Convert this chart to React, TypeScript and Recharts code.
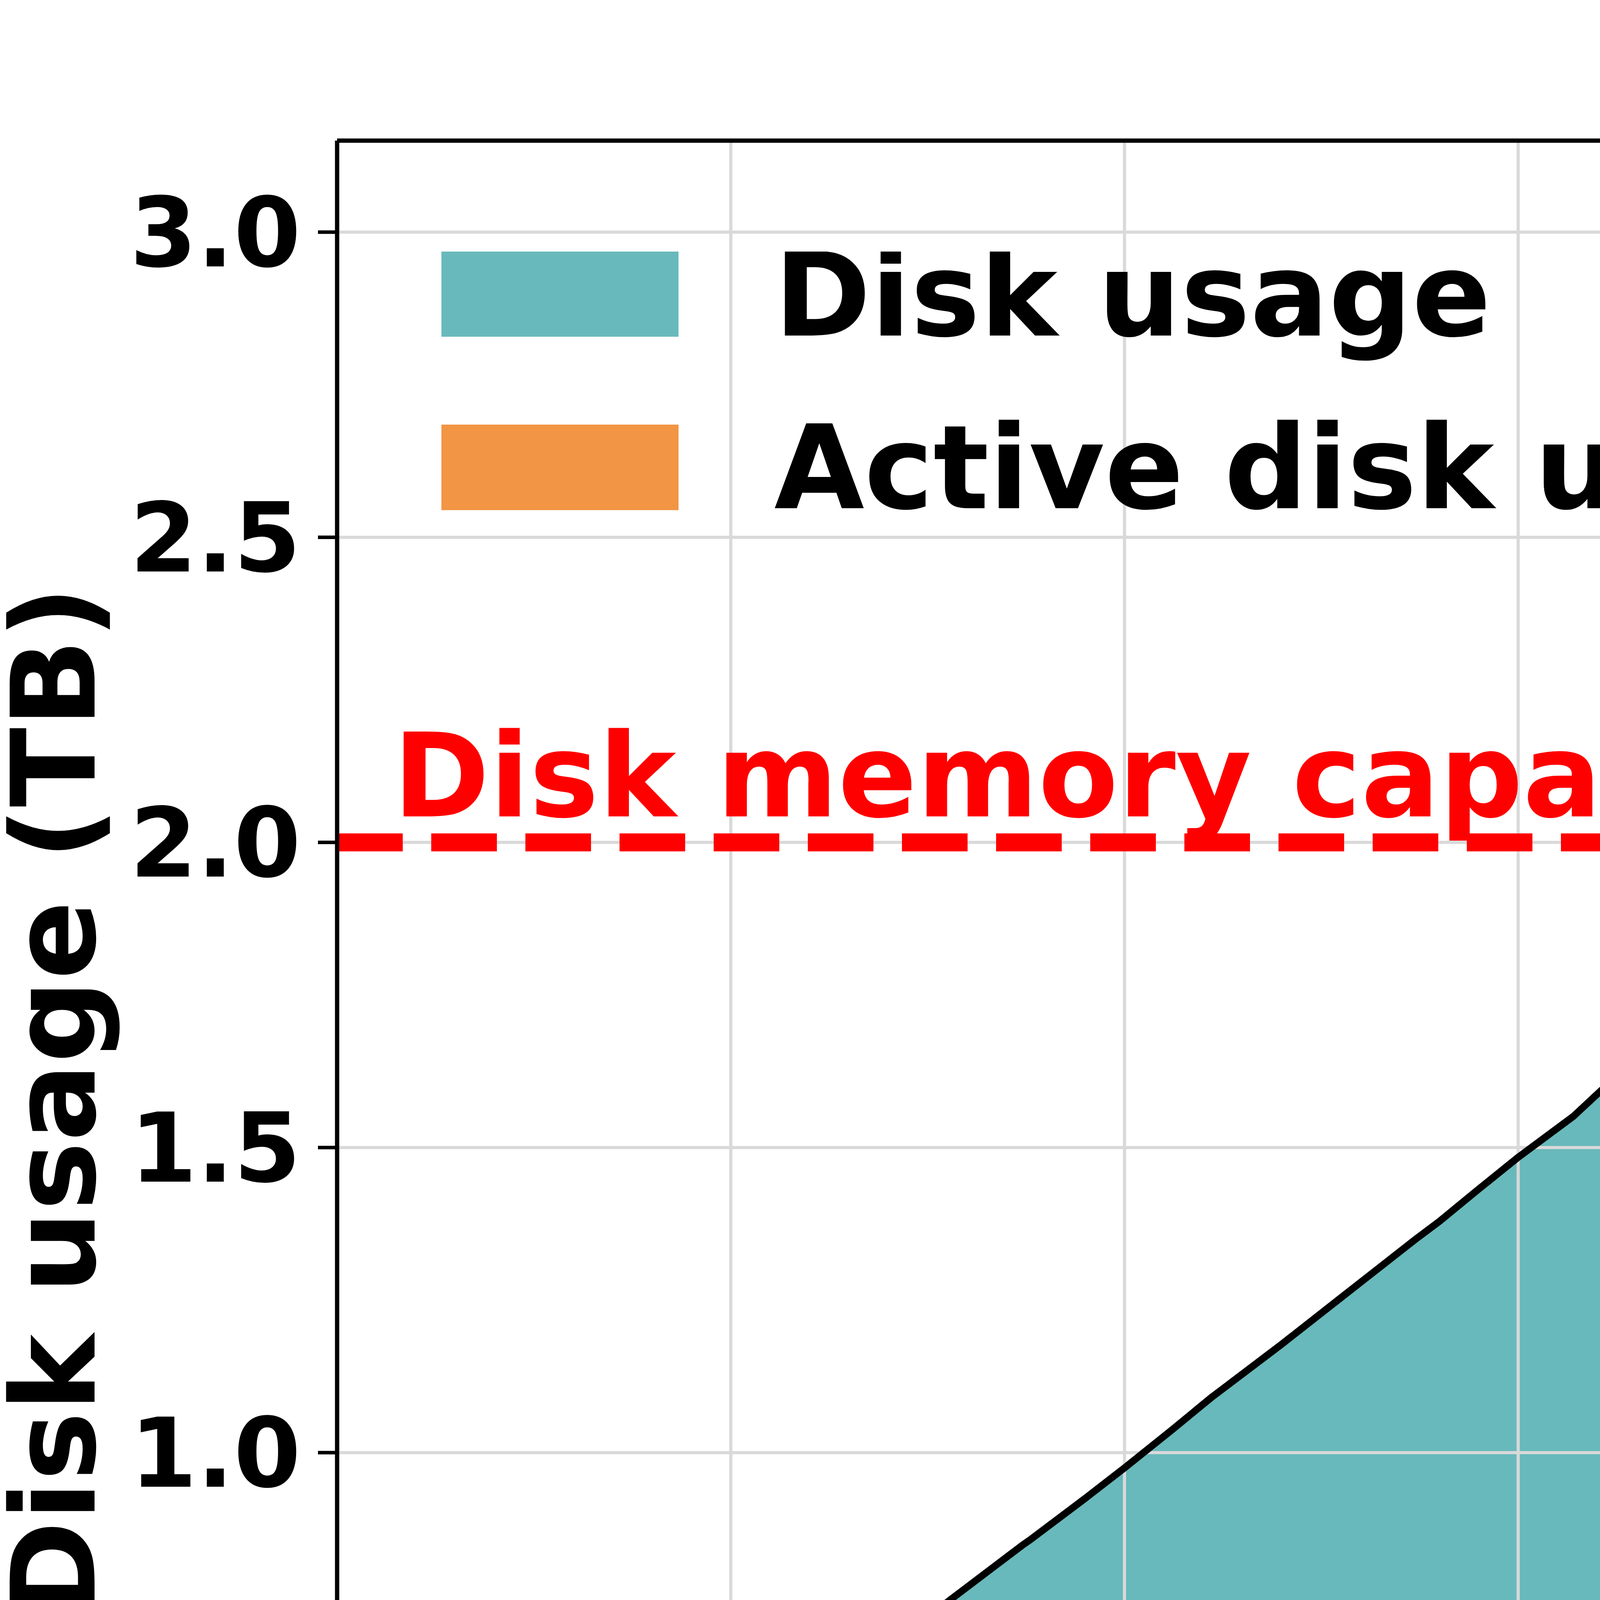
import { ComposedChart, Area, Line, XAxis, YAxis, ReferenceLine, Legend, Label } from "recharts"

// processed workflows (x) and disk usage in TB
const workflows = [
  0, 48, 50, 60, 70, 77, 78, 87, 88, 95, 100, 106, 111, 120, 128, 137, 140, 145, 150, 157, 158, 162, 166, 168,
  172, 175, 180, 183, 187, 190, 192, 196, 201, 204, 208, 212, 216, 220, 224, 228, 236, 242, 252, 254, 259, 261,
  268, 280, 288, 300,
]

const diskUsage = [
  0.467, 0.467, 0.486, 0.584, 0.681, 0.75, 0.76, 0.848, 0.857, 0.925, 0.975, 1.037, 1.09, 1.178, 1.259, 1.35,
  1.379, 1.432, 1.484, 1.551, 1.563, 1.611, 1.666, 1.688, 1.731, 1.775, 1.831, 1.86, 1.897, 1.926, 1.946, 1.987,
  2.036, 2.065, 2.103, 2.142, 2.18, 2.218, 2.257, 2.296, 2.374, 2.433, 2.53, 2.55, 2.599, 2.618, 2.687, 2.804,
  2.883, 3.0,
]

const activeDiskUsage = [
  0.467, 0.467, 0.467, 0.467, 0.467, 0.467, 0.4685, 0.4685, 0.47, 0.475, 0.479, 0.479, 0.483, 0.483, 0.4846,
  0.4846, 0.4885, 0.487, 0.487, 0.487, 0.495, 0.497, 0.513, 0.515, 0.519, 0.531, 0.537, 0.54, 0.536, 0.537, 0.534,
  0.534, 0.531, 0.531, 0.528, 0.511, 0.5065, 0.499, 0.4925, 0.474, 0.4727, 0.473, 0.473, 0.4718, 0.4718, 0.4735,
  0.472, 0.4735, 0.472, 0.4735,
]

const xTicks = [0, 50, 100, 150, 200, 250, 300]
const yTicks = [0, 0.5, 1, 1.5, 2, 2.5, 3]
const capacity = 2.0

const data = workflows.map((w, i) => ({ w, disk: diskUsage[i], active: activeDiskUsage[i] }))

const FONT = "DejaVu Sans"
const TEAL = "#68b9bb"
const ORANGE = "#f29545"
const GRID = "#d9d9d9"

const tickStyle = { fontFamily: FONT, fontSize: 247, fontWeight: "bold", fill: "#000" }

function LegendBox() {
  return (
    <svg width={4200} height={700}>
      <rect x={0} y={0} width={607} height={218} fill={TEAL} />
      <text x={852} y={215} fontFamily={FONT} fontSize={298} fontWeight="bold" fill="#000">
        Disk usage
      </text>
      <rect x={0} y={443} width={607} height={219} fill={ORANGE} />
      <text x={852} y={657} fontFamily={FONT} fontSize={298} fontWeight="bold" fill="#000">
        Active disk usage
      </text>
    </svg>
  )
}

export default function App() {
  return (
    <div style={{ position: "absolute", left: 0, top: 0, width: 7200, height: 6000, background: "#fff" }}>
      <ComposedChart
        width={7200}
        height={6000}
        data={data}
        margin={{ top: 360, right: 290, bottom: 319, left: 263 }}
      >
        <XAxis
          dataKey="w"
          type="number"
          domain={[0, 300]}
          ticks={xTicks}
          height={400}
          stroke="#000"
          axisLine={{ stroke: "#000", strokeWidth: 11 }}
          tickLine={{ stroke: "#000", strokeWidth: 9 }}
          tickSize={51}
          tickMargin={39}
          tick={tickStyle}
        >
          <Label
            content={() => (
              <text x={3886} y={5862} textAnchor="middle" fontFamily={FONT} fontSize={298} fontWeight="bold" fill="#000">
                Processed workflows
              </text>
            )}
          />
        </XAxis>
        <YAxis
          type="number"
          domain={[0, 3.15]}
          ticks={yTicks}
          width={600}
          axisLine={{ stroke: "#000", strokeWidth: 11 }}
          tickLine={{ stroke: "#000", strokeWidth: 9 }}
          tickSize={49}
          tickMargin={44}
          tick={tickStyle}
          tickFormatter={(v: number) => v.toFixed(1)}
        >
          <Label
            content={() => (
              <text
                x={242}
                y={2820}
                transform="rotate(-90 242 2820)"
                textAnchor="middle"
                fontFamily={FONT}
                fontSize={298}
                fontWeight="bold"
                fill="#000"
              >
                Disk usage (TB)
              </text>
            )}
          />
        </YAxis>

        <Area type="linear" dataKey="disk" fill={TEAL} fillOpacity={1} stroke="none" isAnimationActive={false} />
        <Area type="linear" dataKey="active" fill={ORANGE} fillOpacity={1} stroke="none" isAnimationActive={false} />

        {xTicks.slice(1, -1).map((t) => (
          <ReferenceLine key={"gx" + t} x={t} stroke={GRID} strokeWidth={8} />
        ))}
        {yTicks.slice(1).map((t) => (
          <ReferenceLine key={"gy" + t} y={t} stroke={GRID} strokeWidth={8} />
        ))}

        <Line type="linear" dataKey="disk" stroke="#000" strokeWidth={18} dot={false} isAnimationActive={false} />
        <Line type="linear" dataKey="active" stroke="#000" strokeWidth={18} dot={false} isAnimationActive={false} />

        <ReferenceLine
          y={capacity}
          stroke="#ff0000"
          strokeWidth={46}
          strokeDasharray="168 73"
          label={{
            content: () => (
              <text x={1006} y={2090} fontFamily={FONT} fontSize={298} fontWeight="bold" fill="#ff0000">
                Disk memory capacity
              </text>
            ),
          }}
        />

        <ReferenceLine y={3.15} stroke="#000" strokeWidth={11} />
        <ReferenceLine x={300} stroke="#000" strokeWidth={11} />

        <Legend
          layout="vertical"
          align="center"
          verticalAlign="middle"
          wrapperStyle={{ left: 1130, top: 644, width: 4200, height: 700 }}
          content={() => <LegendBox />}
        />
      </ComposedChart>
    </div>
  )
}
